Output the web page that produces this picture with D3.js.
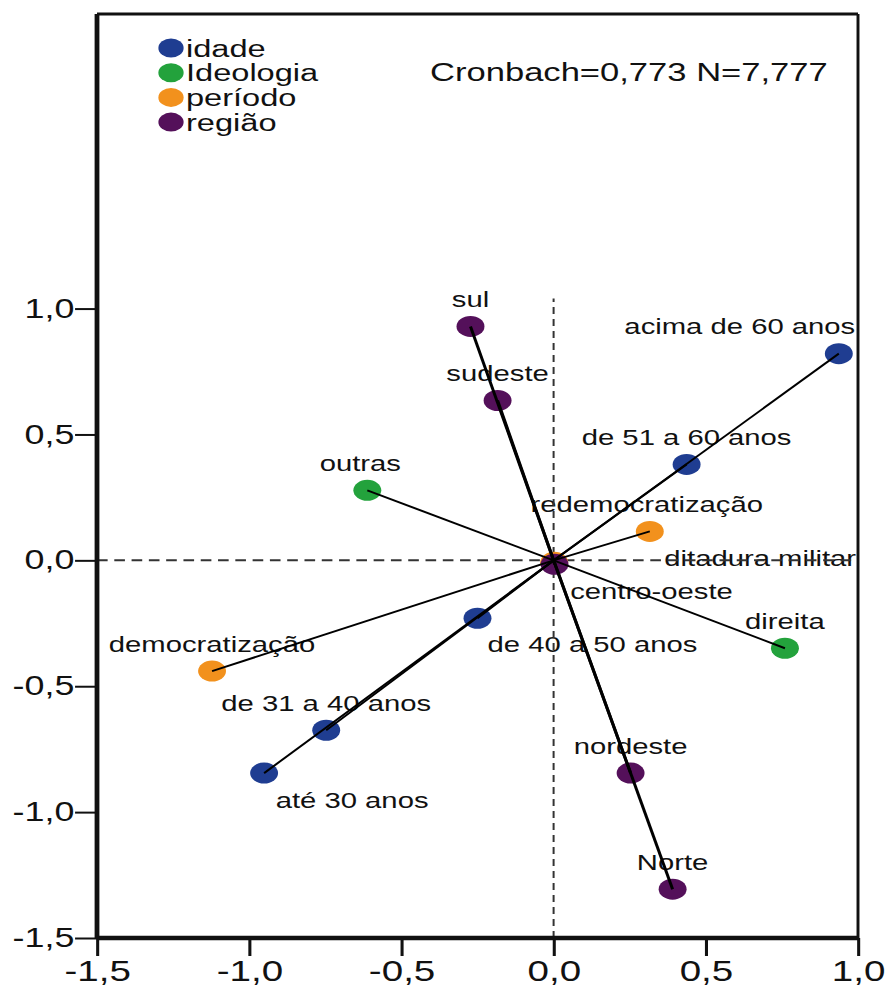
<!DOCTYPE html>
<html>
<head>
<meta charset="utf-8">
<script src="https://cdn.jsdelivr.net/npm/d3@7/dist/d3.min.js"></script>
<style>
  body { margin: 0; background: #fff; }
  svg { display: block; }
  text { font-family: "Liberation Sans", Arial, sans-serif; fill: #111; }
</style>
</head>
<body>
<svg id="chart"></svg>
<script>
// variables (legend order) and their colours
const categories = ["idade", "Ideologia", "período", "região"];
const groupColors = ["#1f3d91", "#23a23c", "#f2911d", "#54105a"];

// category points, dimension 1 / dimension 2
const pointNames = ["até 30 anos", "de 31 a 40 anos", "de 40 a 50 anos", "de 51 a 60 anos", "acima de 60 anos",
    "outras", "direita",
    "democratização", "ditadura militar", "redemocratização",
    "sul", "sudeste", "centro-oeste", "nordeste", "Norte"];
const pointGroup = ["idade", "idade", "idade", "idade", "idade",
    "Ideologia", "Ideologia",
    "período", "período", "período",
    "região", "região", "região", "região", "região"];
const dim1 = [-0.951, -0.747, -0.250, 0.437, 0.937,
    -0.612, 0.760,
    -1.122, 0.002, 0.316,
    -0.273, -0.184, 0.003, 0.253, 0.391];
const dim2 = [-0.845, -0.675, -0.230, 0.381, 0.821,
    0.278, -0.349,
    -0.440, -0.008, 0.115,
    0.929, 0.635, -0.016, -0.845, -1.306];

const xTicks = [-1.5, -1.0, -0.5, 0.0, 0.5, 1.0];
const yTicks = [-1.5, -1.0, -0.5, 0.0, 0.5, 1.0];
const noteText = "Cronbach=0,773 N=7,777";

// the reference picture is stretched sideways, so draw in a narrower viewBox
const W = 888, H = 989;
const S = 1.33;
const VW = W / S;

const svg = d3.select("#chart")
    .attr("width", W)
    .attr("height", H)
    .attr("viewBox", "0 0 " + VW + " " + H)
    .attr("preserveAspectRatio", "none");

const x = d3.scaleLinear().domain([-1.5, 1.0]).range([97 / S, 858 / S]);
const y = d3.scaleLinear().domain([-1.5, 2.17]).range([938, 14]);

const fmt = d => d3.format(".1f")(d).replace(".", ",").replace("\u2212", "-");
const color = d3.scaleOrdinal().domain(categories).range(groupColors);

const points = pointNames.map((name, i) => ({name: name, group: pointGroup[i], d1: dim1[i], d2: dim2[i]}));

// label placement, screen px from the point (default: centred above)
const labelNudge = {
    "acima de 60 anos": [-99, -20],
    "outras": [-7, -19],
    "redemocratização": [-3, -19],
    "ditadura militar": [206, 4],
    "centro-oeste": [97, 35],
    "de 40 a 50 anos": [115, 34],
    "até 30 anos": [88, 35]
};

// labels
svg.append("g")
    .selectAll("text")
    .data(points)
    .enter()
    .append("text")
    .attr("x", d => x(d.d1) + (labelNudge[d.name] ? labelNudge[d.name][0] : 0) / S)
    .attr("y", d => y(d.d2) + (labelNudge[d.name] ? labelNudge[d.name][1] : -19))
    .attr("text-anchor", "middle")
    .attr("font-size", 22)
    .text(d => d.name);

// reference lines
svg.append("line")
    .attr("x1", x(-1.5)).attr("x2", x(1.0))
    .attr("y1", y(0)).attr("y2", y(0))
    .attr("stroke", "#333")
    .attr("stroke-width", 2)
    .attr("stroke-dasharray", "8,5");

svg.append("line")
    .attr("x1", x(0)).attr("x2", x(0))
    .attr("y1", y(-1.5)).attr("y2", y(1.04))
    .attr("stroke", "#333")
    .attr("stroke-width", 1.5)
    .attr("stroke-dasharray", "7,5");

// points
svg.append("g")
    .selectAll("circle")
    .data(points)
    .enter()
    .append("circle")
    .attr("cx", d => x(d.d1))
    .attr("cy", d => y(d.d2))
    .attr("r", 10.5)
    .attr("fill", d => color(d.group));

// vectors from the origin
svg.append("g")
    .selectAll("line")
    .data(points)
    .enter()
    .append("line")
    .attr("x1", x(0)).attr("y1", y(0))
    .attr("x2", d => x(d.d1))
    .attr("y2", d => y(d.d2))
    .attr("stroke", "#000")
    .attr("vector-effect", "non-scaling-stroke")
    .attr("stroke-width", d => d.group === "região" ? 3 : 2);

// axes
const yAxis = svg.append("g")
    .attr("transform", "translate(" + x(-1.5) + ",0)")
    .call(d3.axisLeft(y).tickValues(yTicks).tickSize(16.5).tickPadding(0.5).tickFormat(fmt));
yAxis.select(".domain").remove();
yAxis.selectAll("line").attr("stroke", "#111").attr("stroke-width", 2);
yAxis.selectAll("text").attr("font-size", 27).attr("fill", "#111");

const xAxis = svg.append("g")
    .attr("transform", "translate(0," + y(-1.5) + ")")
    .call(d3.axisBottom(x).tickValues(xTicks).tickSize(18).tickPadding(4).tickFormat(fmt));
xAxis.select(".domain").remove();
xAxis.selectAll("line").attr("stroke", "#111").attr("stroke-width", 2.3);
xAxis.selectAll("text").attr("font-size", 29).attr("fill", "#111");

// frame
const frame = svg.append("g").attr("stroke", "#111");
frame.append("line")
    .attr("x1", x(-1.5)).attr("x2", x(1.0)).attr("y1", y(2.17)).attr("y2", y(2.17))
    .attr("stroke-width", 3);
frame.append("line")
    .attr("x1", x(1.0)).attr("x2", x(1.0)).attr("y1", y(2.17)).attr("y2", y(-1.5))
    .attr("stroke-width", 2.2);
frame.append("line")
    .attr("x1", x(-1.5)).attr("x2", x(1.0)).attr("y1", y(-1.5)).attr("y2", y(-1.5))
    .attr("stroke-width", 4.5);
frame.append("line")
    .attr("x1", x(-1.5)).attr("x2", x(-1.5)).attr("y1", y(2.17)).attr("y2", y(-1.5) + 1)
    .attr("stroke-width", 3.6);

// legend
const legend = svg.append("g")
    .selectAll("g")
    .data(categories)
    .enter()
    .append("g")
    .attr("transform", (d, i) => "translate(" + (171 / S) + "," + (48 + i * 24.7) + ")");
legend.append("circle")
    .attr("r", 9.5)
    .attr("fill", d => color(d));
legend.append("text")
    .attr("x", 15 / S)
    .attr("y", 8.5)
    .attr("font-size", 24.5)
    .text(d => d);

svg.append("text")
    .attr("x", 430 / S)
    .attr("y", 81)
    .attr("font-size", 26)
    .text(noteText);
</script>
</body>
</html>
